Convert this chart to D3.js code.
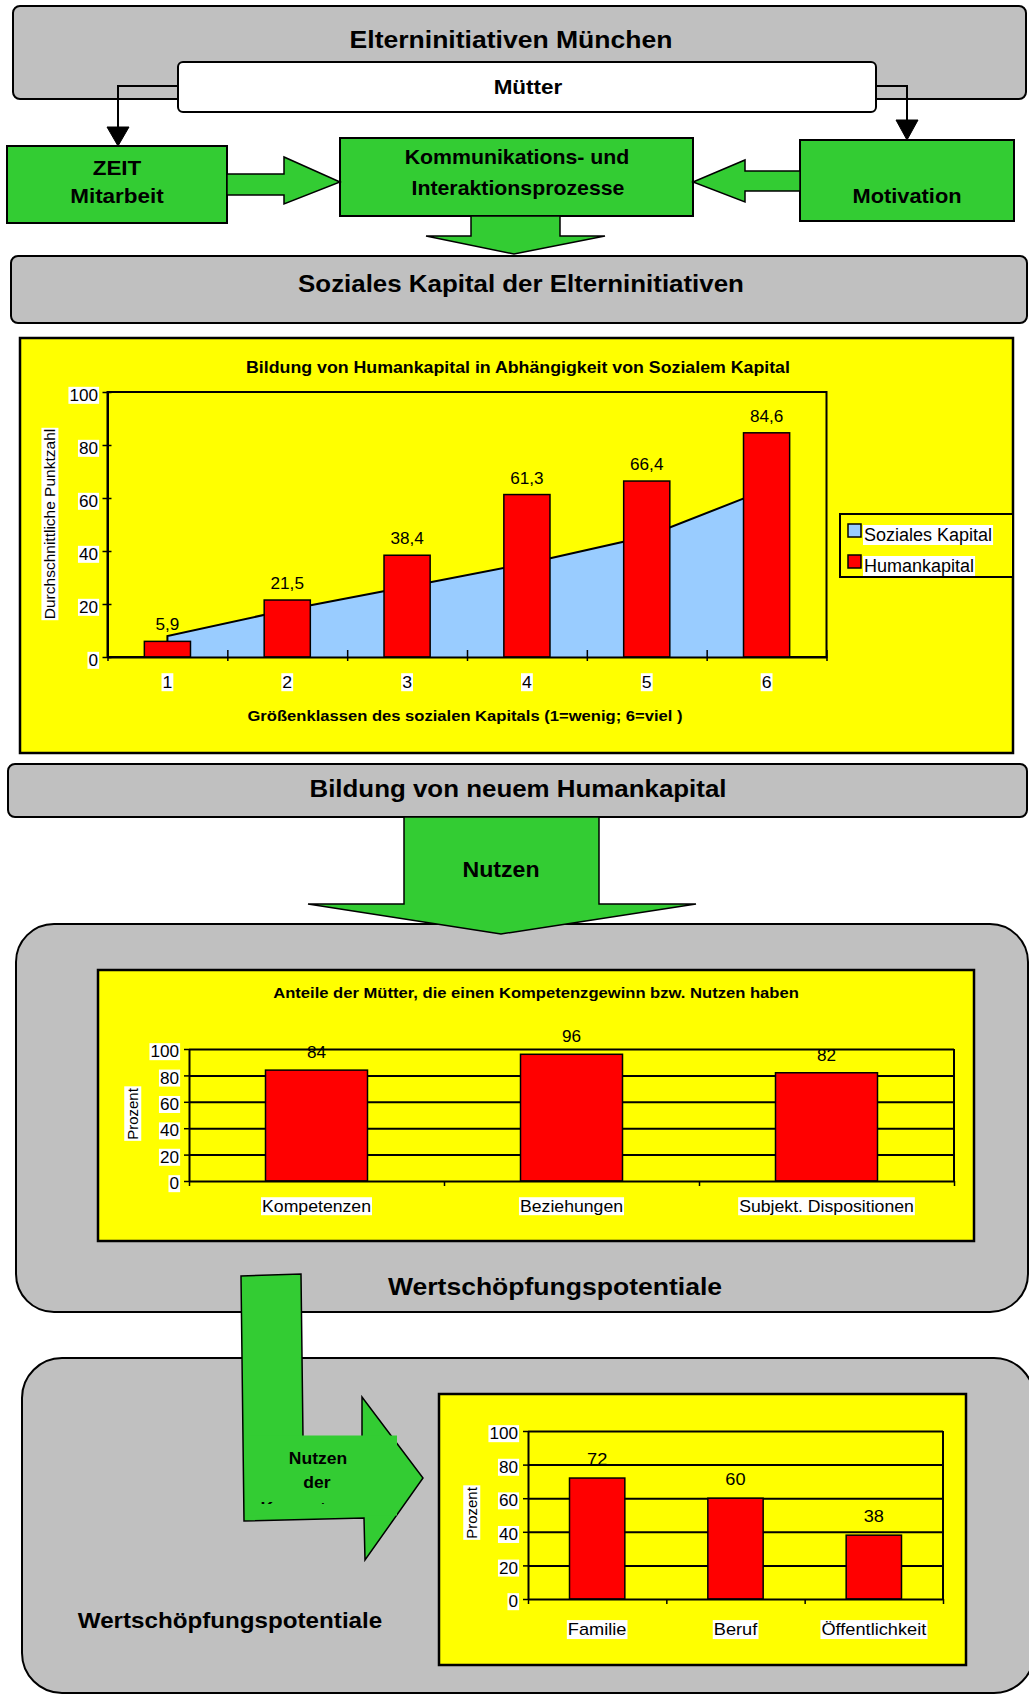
<!DOCTYPE html>
<html><head><meta charset="utf-8">
<script src="https://cdn.jsdelivr.net/npm/d3@7"></script>
<style>
body{margin:0;background:#fff}
svg{display:block}
</style></head><body>
<svg id="fig" width="1029" height="1694" font-family="'Liberation Sans', Arial, Helvetica, sans-serif"></svg>
<script>
// Chart 1: Humankapital nach Größenklassen des sozialen Kapitals
const klassen = ["1", "2", "3", "4", "5", "6"];
const humankapital = [5.9, 21.5, 38.4, 61.3, 66.4, 84.6];
const sozialesKapital = [7.9, 17.8, 26.5, 35.3, 45.5, 63.2];
const punktTicks = [0, 20, 40, 60, 80, 100];
const legendNames = ["Soziales Kapital", "Humankapital"];

// Chart 2: Kompetenzgewinn der Mütter
const nutzenKategorien = ["Kompetenzen", "Beziehungen", "Subjekt. Dispositionen"];
const nutzenAnteile = [84, 96, 82];

// Chart 3: Wertschöpfungspotentiale
const bereiche = ["Familie", "Beruf", "Öffentlichkeit"];
const bereichAnteile = [72, 60, 38];
const prozentTicks = [0, 20, 40, 60, 80, 100];

const C = {gray: "#c0c0c0", green: "#33cc33", yellow: "#ffff00", red: "#ff0000", blue: "#99ccff", ink: "#000"};
const SX = 1.07;   // slight horizontal widening of the lettering
const de = d3.formatLocale({decimal: ",", thousands: ".", grouping: [3], currency: ["", " €"]});
const svg = d3.select("#fig");

function stretch(sel, k) {
  sel.each(function () {
    const w = this.getComputedTextLength();
    if (w > 0 && k !== 1) d3.select(this).attr("textLength", w * k).attr("lengthAdjust", "spacingAndGlyphs");
  });
  return sel;
}
function whiteBg(sel) {
  sel.each(function () {
    const b = this.getBBox();
    d3.select(this.parentNode).insert("rect", () => this)
      .attr("x", b.x - 1).attr("y", b.y).attr("width", b.width + 2).attr("height", b.height)
      .attr("fill", "#fff");
  });
  return sel;
}
function label(parent, str, x, y, size, opts = {}) {
  const t = parent.append("text").attr("x", x).attr("y", y).attr("font-size", size)
    .attr("font-weight", opts.bold === false ? "normal" : "bold")
    .attr("text-anchor", opts.anchor || "middle").attr("fill", C.ink).text(str);
  stretch(t, opts.sx ?? SX);
  return t;
}
function box(parent, x, y, w, h, fill, r, sw = 2) {
  return parent.append("rect").attr("x", x).attr("y", y).attr("width", w).attr("height", h)
    .attr("rx", r).attr("ry", r).attr("fill", fill).attr("stroke", C.ink).attr("stroke-width", sw);
}
function poly(parent, pts, fill, sw = 1.5) {
  return parent.append("path").attr("d", d3.line()(pts) + "Z")
    .attr("fill", fill).attr("stroke", C.ink).attr("stroke-width", sw).attr("stroke-linejoin", "miter");
}
function styleAxis(g, size, sx) {
  g.attr("font-size", size).attr("font-family", null);
  g.select(".domain").attr("stroke-width", 2);
  g.selectAll(".tick line").attr("stroke-width", 1.5);
  stretch(g.selectAll(".tick text"), sx);
}

// ---------- Flow diagram: upper part ----------
const head = svg.append("g");
box(head, 13, 6, 1013, 93, C.gray, 7);
label(head, "Elterninitiativen München", 511, 48, 24.8);
box(head, 178, 62, 698, 50, "#fff", 5);
label(head, "Mütter", 528, 94, 21);

// connectors from "Mütter"
head.append("path").attr("d", "M178,86H118V128").attr("fill", "none").attr("stroke", C.ink).attr("stroke-width", 2);
poly(head, [[107, 127], [129, 127], [118, 146]], C.ink, 1);
head.append("path").attr("d", "M876,86H907V121").attr("fill", "none").attr("stroke", C.ink).attr("stroke-width", 2);
poly(head, [[896, 120], [918, 120], [907, 140]], C.ink, 1);

box(head, 7, 146, 220, 77, C.green, 0);
label(head, "ZEIT", 117, 175, 21);
label(head, "Mitarbeit", 117, 203, 21);

box(head, 340, 138, 353, 78, C.green, 0);
label(head, "Kommunikations- und", 517, 164, 19.9);
label(head, "Interaktionsprozesse", 518, 195, 19.9);

box(head, 800, 140, 214, 81, C.green, 0);
label(head, "Motivation", 907, 203, 20.4);

poly(head, [[227, 174], [284, 174], [284, 157], [340, 182], [284, 204], [284, 195], [227, 195]], C.green);
poly(head, [[800, 171], [745, 171], [745, 160], [693, 182], [745, 202], [745, 191], [800, 191]], C.green);
poly(head, [[471, 216], [560, 216], [560, 236], [605, 236], [514, 254], [426, 236], [471, 236]], C.green);

box(head, 11, 256, 1016, 67, C.gray, 7);
label(head, "Soziales Kapital der Elterninitiativen", 521, 292, 24.2);

// ---------- Chart 1 ----------
(function chart1() {
  const g = svg.append("g");
  g.append("rect").attr("x", 20).attr("y", 338).attr("width", 993).attr("height", 415)
    .attr("fill", C.yellow).attr("stroke", C.ink).attr("stroke-width", 2.5);
  label(g, "Bildung von Humankapital in Abhängigkeit von Sozialem Kapital", 518, 373, 16.6);

  const L = 107.5, R = 826.5, T = 392, B = 657;
  const x = d3.scaleBand().domain(klassen).range([L, R]);
  const xb = d3.scaleLinear().domain([0, klassen.length]).range([L, R]);
  const y = d3.scaleLinear().domain([0, 100]).range([B, T]);
  const cx = k => x(k) + x.bandwidth() / 2;

  g.append("rect").attr("x", L).attr("y", T).attr("width", R - L).attr("height", B - T)
    .attr("fill", "none").attr("stroke", C.ink).attr("stroke-width", 2);

  const pts = klassen.map((k, i) => [cx(k), sozialesKapital[i]]);
  g.append("path").datum(pts)
    .attr("d", d3.area().x(d => d[0]).y0(B).y1(d => y(d[1])))
    .attr("fill", C.blue);
  g.append("path").datum([[pts[0][0], 0], ...pts])
    .attr("d", d3.line().x(d => d[0]).y(d => y(d[1])))
    .attr("fill", "none").attr("stroke", C.ink).attr("stroke-width", 2);

  const bw = x.bandwidth() * 0.385;
  g.selectAll(".hk").data(humankapital).join("rect").attr("class", "hk")
    .attr("x", (d, i) => cx(klassen[i]) - bw / 2).attr("y", d => y(d))
    .attr("width", bw).attr("height", d => B - y(d))
    .attr("fill", C.red).attr("stroke", C.ink).attr("stroke-width", 1.5);
  const fmt = de.format(".1f");
  humankapital.forEach((d, i) => label(g, fmt(d), cx(klassen[i]), y(d) - 11, 16, {bold: false}));

  const ya = g.append("g").attr("transform", `translate(${L},0)`)
    .call(d3.axisLeft(y).tickValues(punktTicks).tickSize(5).tickPadding(4.5).tickSizeOuter(0));
  ya.selectAll(".tick line").attr("x1", 4);
  ya.selectAll(".tick text").attr("dy", "0.52em");
  styleAxis(ya, 16, SX);
  whiteBg(ya.selectAll(".tick text"));

  const xa = g.append("g").attr("transform", `translate(0,${B})`)
    .call(d3.axisBottom(xb).tickValues(d3.range(0, klassen.length + 1)).tickFormat("").tickSize(4).tickSizeOuter(0));
  xa.selectAll(".tick line").attr("y1", -7);
  styleAxis(xa, 16, SX);

  const xl = g.append("g").attr("transform", `translate(0,${B})`)
    .call(d3.axisBottom(x).tickSize(0).tickPadding(19.5));
  xl.select(".domain").remove();
  styleAxis(xl, 16.5, SX);
  whiteBg(xl.selectAll(".tick text"));

  const yt = g.append("g").attr("transform", "translate(50,524) rotate(-90)");
  whiteBg(yt.append("text").attr("text-anchor", "middle").attr("dy", "0.35em")
    .attr("font-size", 15.5).text("Durchschnittliche Punktzahl"));

  label(g, "Größenklassen des sozialen Kapitals (1=wenig; 6=viel )", 465, 721, 15.5);

  // legend
  g.append("rect").attr("x", 840).attr("y", 514).attr("width", 173).attr("height", 63)
    .attr("fill", C.yellow).attr("stroke", C.ink).attr("stroke-width", 2);
  const lg = g.selectAll(".lg").data(legendNames).join("g").attr("class", "lg")
    .attr("transform", (d, i) => `translate(0,${i * 31})`);
  lg.append("rect").attr("x", 848).attr("y", 524).attr("width", 13).attr("height", 13)
    .attr("fill", (d, i) => [C.blue, C.red][i]).attr("stroke", C.ink).attr("stroke-width", 1.5);
  lg.each(function (d) {
    whiteBg(label(d3.select(this), d, 864, 541, 18, {bold: false, anchor: "start", sx: 1}));
  });
})();

// ---------- Middle part ----------
const mid = svg.append("g");
box(mid, 8, 764, 1019, 53, C.gray, 7);
label(mid, "Bildung von neuem Humankapital", 518, 797, 24.2);
box(mid, 22, 1358, 1012, 335, C.gray, 40);
box(mid, 16, 924, 1012, 388, C.gray, 38);
poly(mid, [[404, 817], [599, 817], [599, 904], [696, 904], [501, 934], [308, 904], [404, 904]], C.green);
label(mid, "Nutzen", 501, 877, 22, {sx: 1.05});

// ---------- Bar charts with percentage axis ----------
function barChart(c) {
  const g = svg.append("g");
  g.append("rect").attr("x", c.frame[0]).attr("y", c.frame[1]).attr("width", c.frame[2]).attr("height", c.frame[3])
    .attr("fill", C.yellow).attr("stroke", C.ink).attr("stroke-width", 2.5);
  if (c.title) label(g, c.title, c.titleAt[0], c.titleAt[1], 15.5);

  const [L, T, R, B] = c.plot;
  const x = d3.scaleBand().domain(c.cats).range([L, R]);
  const xb = d3.scaleLinear().domain([0, c.cats.length]).range([L, R]);
  const y = d3.scaleLinear().domain([0, 100]).range([B, T]);
  const cx = k => x(k) + x.bandwidth() / 2;

  const grid = g.append("g").attr("transform", `translate(${L},0)`)
    .call(d3.axisLeft(y).tickValues(prozentTicks.filter(v => v > 0)).tickSize(-(R - L)).tickFormat(""));
  grid.select(".domain").remove();
  grid.selectAll(".tick line").attr("stroke-width", 2);
  g.append("line").attr("x1", R).attr("x2", R).attr("y1", T).attr("y2", B).attr("stroke", C.ink).attr("stroke-width", 2);

  const bw = x.bandwidth() * 0.4;
  g.selectAll(".bar").data(c.vals).join("rect").attr("class", "bar")
    .attr("x", (d, i) => cx(c.cats[i]) - bw / 2).attr("y", d => y(d))
    .attr("width", bw).attr("height", d => B - y(d))
    .attr("fill", C.red).attr("stroke", C.ink).attr("stroke-width", 1.5);
  c.vals.forEach((d, i) => label(g, String(d), cx(c.cats[i]), y(d) - c.valueGap, c.valueFont, {bold: false}));

  const ya = g.append("g").attr("transform", `translate(${L},0)`)
    .call(d3.axisLeft(y).tickValues(prozentTicks).tickSize(5).tickPadding(5).tickSizeOuter(0));
  ya.selectAll(".tick text").attr("dy", "0.48em");
  styleAxis(ya, 16, SX);
  whiteBg(ya.selectAll(".tick text"));

  const xa = g.append("g").attr("transform", `translate(0,${B})`)
    .call(d3.axisBottom(xb).tickValues(d3.range(0, c.cats.length + 1)).tickFormat("").tickSize(5).tickSizeOuter(0));
  styleAxis(xa, 16, SX);

  const xl = g.append("g").attr("transform", `translate(0,${B})`)
    .call(d3.axisBottom(x).tickSize(0).tickPadding(c.catPad));
  xl.select(".domain").remove();
  styleAxis(xl, c.catFont, SX);
  whiteBg(xl.selectAll(".tick text"));

  const yt = g.append("g").attr("transform", `translate(${c.yTitleAt[0]},${c.yTitleAt[1]}) rotate(-90)`);
  whiteBg(yt.append("text").attr("text-anchor", "middle").attr("dy", "0.35em")
    .attr("font-size", 15).text("Prozent"));
  return g;
}

barChart({
  frame: [98, 970, 876, 271],
  title: "Anteile der Mütter, die einen Kompetenzgewinn bzw. Nutzen haben",
  titleAt: [536, 998],
  plot: [189, 1049, 954, 1181],
  cats: nutzenKategorien, vals: nutzenAnteile,
  valueGap: 12, valueFont: 16, catPad: 19.5, catFont: 16.5,
  yTitleAt: [133, 1114]
});

label(mid, "Wertschöpfungspotentiale", 555, 1295, 24.8);
label(mid, "Wertschöpfungspotentiale", 230, 1628, 22.6);

barChart({
  frame: [439, 1394, 527, 271],
  plot: [528, 1431, 943, 1599],
  cats: bereiche, vals: bereichAnteile,
  valueGap: 13, valueFont: 17, catPad: 24, catFont: 17,
  yTitleAt: [472, 1513]
});

// ---------- L-shaped arrow "Nutzen der Kompetenzen" ----------
const la = svg.append("g");
poly(la, [[241, 1276], [301, 1274], [303, 1437], [362, 1437], [362, 1397], [423, 1478],
          [365, 1560], [364, 1518], [244, 1521]], C.green);
la.append("rect").attr("x", 245).attr("y", 1435.5).attr("width", 152).attr("height", 80).attr("fill", C.green);
la.append("clipPath").attr("id", "arrowText").append("rect")
  .attr("x", 245).attr("y", 1436).attr("width", 152).attr("height", 68);
const at = la.append("g").attr("clip-path", "url(#arrowText)");
label(at, "Nutzen", 318, 1464, 17, {sx: 1.03});
label(at, "der", 317, 1488, 17, {sx: 1.03});
label(at, "Kompetenzen", 318, 1514, 17, {sx: 1.03});
</script>
</body></html>
